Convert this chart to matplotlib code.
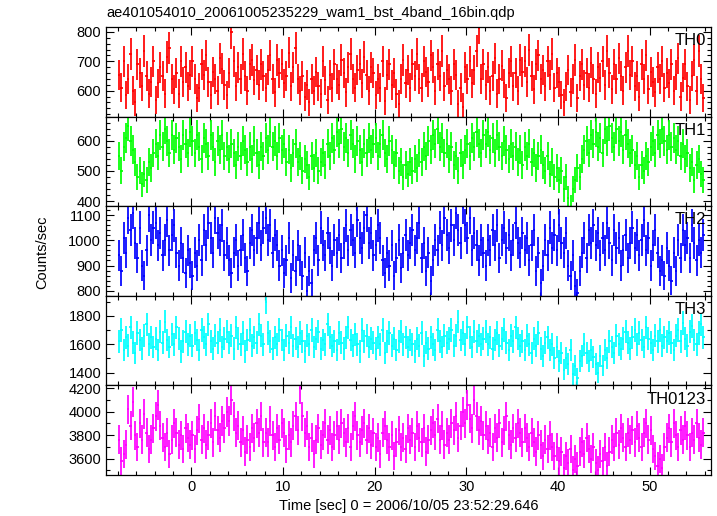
import numpy as np
import matplotlib
matplotlib.use("Agg")
import matplotlib.pyplot as plt
from matplotlib.ticker import MultipleLocator

plt.rcParams['font.family'] = ['Liberation Sans', 'DejaVu Sans']

bin_width = 0.25
t_start = -8.0

th0 = [655,610,700,585,640,725,600,560,690,660,615,735,650,590,630,700,
       570,625,680,650,590,715,745,640,605,660,590,700,630,680,615,655,
       700,640,575,610,690,655,720,630,585,665,640,600,710,675,620,585,
       660,800,700,615,680,640,725,650,600,690,705,635,670,620,690,650,
       610,670,720,640,595,705,660,690,625,650,730,615,680,745,640,600,
       650,580,620,560,640,600,665,615,590,700,635,570,655,610,690,640,
       620,705,660,595,680,725,640,610,670,690,625,715,655,600,680,660,
       585,640,610,700,565,655,690,620,660,590,555,640,705,625,670,610,
       690,650,725,640,610,700,665,630,720,680,600,690,650,735,615,670,
       640,600,690,655,555,610,545,680,640,700,625,670,735,815,640,690,
       620,680,600,650,710,590,640,685,625,575,660,700,615,660,600,705,
       665,700,630,740,650,605,690,720,640,670,615,700,655,725,610,660,
       630,585,560,615,670,595,640,705,575,650,690,620,660,610,695,640,
       590,680,645,700,620,735,660,605,690,640,710,650,600,680,735,655,
       700,615,650,580,690,640,720,605,665,630,595,680,640,700,610,660,
       625,690,600,655,710,580,645,690,615,570,650,705,600,735,640,575]

th1 = [550,500,580,610,650,600,570,530,480,500,455,490,470,530,510,560,
       590,550,620,580,640,600,560,620,570,610,580,540,620,590,560,630,
       600,560,620,580,540,610,590,550,620,580,530,600,570,620,550,580,
       540,590,560,520,580,550,600,570,530,580,540,600,560,520,580,550,
       610,570,630,580,600,550,610,570,590,530,570,510,560,590,530,550,
       500,540,520,480,550,510,560,500,530,560,520,590,550,610,570,630,
       590,640,580,610,560,620,590,540,600,570,530,590,560,610,570,590,
       610,550,590,620,560,540,600,570,520,560,500,530,480,520,490,530,
       500,540,510,560,530,580,550,600,570,620,590,640,580,610,560,590,
       540,580,520,550,500,560,520,570,590,550,610,580,630,590,560,620,
       590,630,570,610,560,620,580,550,600,570,540,590,550,580,530,570,
       520,580,550,590,530,560,510,550,570,520,500,550,490,530,480,510,
       470,500,440,480,410,380,440,470,510,480,540,570,600,560,620,590,
       630,580,610,560,640,600,650,610,580,640,600,630,570,620,590,560,
       570,520,550,480,520,500,550,530,580,600,560,620,590,640,600,570,
       620,580,610,570,600,550,590,540,560,510,530,470,520,540,490,470]

th2 = [940,880,1010,950,1090,1040,1110,990,930,1050,900,860,960,1100,1000,1050,
       1070,980,1030,940,1000,1080,960,1020,1060,950,900,990,930,870,960,910,
       860,950,900,1000,920,1040,980,1070,1010,950,1090,1030,1000,1060,940,990,
       920,870,950,1000,900,960,1020,930,880,990,1040,960,1010,1070,980,1050,
       1090,1000,1060,950,1020,980,900,960,870,920,1010,850,940,880,980,920,
       860,950,800,880,830,960,1010,920,1050,980,940,1030,970,900,1000,950,
       1020,930,990,1060,960,1040,1000,950,1080,1010,970,1050,1100,990,1030,940,
       980,1060,1010,920,870,950,900,980,860,930,1000,890,950,1020,940,990,
       1040,960,1010,1070,930,990,880,950,840,920,1000,960,1050,980,1090,1020,
       970,1060,1000,1110,1040,990,1130,1060,1010,1090,960,1030,980,920,1000,950,
       900,1000,960,1040,980,1060,930,1000,1050,970,1020,940,1000,1070,990,950,
       1030,960,1010,920,980,1040,880,950,830,900,1000,940,1050,970,1020,960,
       1060,990,950,1030,900,860,940,820,790,880,950,1010,930,1040,990,1060,
       980,1030,940,1010,960,1070,990,920,1040,970,1010,900,960,1020,930,990,
       1050,970,1020,940,1000,1080,960,1010,900,980,1040,950,880,920,860,970,
       900,840,950,880,1000,930,1040,980,1010,930,1060,990,920,1000,950,1020]

th3 = [1620,1700,1560,1650,1590,1720,1610,1540,1680,1630,1570,1660,1740,1600,1650,1580,
       1640,1560,1690,1610,1760,1630,1580,1670,1600,1720,1640,1550,1620,1690,1600,1660,
       1590,1680,1630,1560,1700,1650,1600,1740,1620,1570,1660,1610,1700,1580,1640,1690,
       1610,1660,1570,1720,1640,1600,1680,1550,1630,1700,1590,1650,1610,1740,1660,1600,
       1900,1680,1620,1570,1650,1600,1700,1630,1560,1660,1610,1720,1590,1640,1580,1680,
       1620,1550,1660,1600,1700,1580,1640,1690,1570,1630,1600,1740,1650,1590,1620,1560,
       1680,1610,1570,1650,1720,1630,1590,1670,1600,1550,1700,1620,1660,1580,1640,1610,
       1570,1650,1600,1700,1540,1620,1680,1590,1640,1560,1620,1690,1600,1650,1580,1630,
       1600,1550,1640,1590,1680,1520,1610,1570,1650,1600,1560,1700,1620,1580,1660,1610,
       1640,1700,1590,1660,1760,1630,1680,1600,1720,1650,1580,1690,1620,1660,1600,1640,
       1690,1600,1650,1570,1630,1680,1590,1640,1700,1610,1560,1660,1620,1720,1640,1590,
       1620,1560,1660,1600,1540,1640,1590,1680,1570,1520,1610,1650,1560,1600,1500,1580,
       1480,1540,1420,1500,1460,1560,1390,1450,1360,1480,1520,1600,1540,1480,1560,1510,
       1460,1400,1520,1450,1560,1500,1620,1580,1540,1660,1600,1570,1640,1690,1610,1570,
       1650,1700,1600,1680,1630,1580,1720,1640,1610,1560,1660,1620,1700,1590,1650,1620,
       1680,1610,1560,1660,1700,1620,1750,1640,1590,1690,1730,1630,1600,1680,1740,1650]

th0123 = [3760,3580,3640,3720,4020,3880,4080,3800,3700,3900,3760,3980,3820,3680,3760,3860,
          3960,4060,3880,3780,3700,3820,3640,3760,3900,3820,3720,3800,3680,3860,3780,3720,
          3800,3680,3840,3940,3760,3860,3720,3800,3900,3740,3960,3840,3780,3920,3860,4000,
          3920,4100,3960,3820,3880,3740,3840,3660,3760,3700,3860,3780,3900,3820,3960,3740,
          3820,3740,3920,3800,3700,3860,3760,3900,3820,3680,3800,3740,3880,3960,3840,4200,
          3960,3820,3880,3700,3780,3640,3760,3860,3720,3800,3900,3760,3840,3700,3800,3880,
          3760,3900,3820,3740,3860,3700,3880,3960,3800,3740,3840,3900,3760,3860,3720,3820,
          3700,3780,3640,3820,3880,3760,3700,3800,3620,3740,3840,3700,3780,3680,3860,3760,
          3820,3700,3880,3780,3740,3860,3660,3760,3840,3900,3800,3940,3760,3880,3720,3820,
          3760,3900,3840,3960,3780,3880,4000,3900,4060,3940,3860,4100,3960,3840,3920,3800,
          3880,3760,3820,3700,3860,3780,3900,3740,3840,3960,3800,3720,3860,3780,3900,3820,
          3740,3860,3780,3700,3820,3740,3660,3800,3720,3620,3760,3680,3800,3700,3620,3700,
          3580,3660,3520,3620,3560,3680,3500,3600,3540,3660,3740,3640,3780,3680,3600,3700,
          3560,3500,3640,3580,3700,3540,3660,3760,3700,3820,3720,3860,3780,3700,3820,3760,
          3840,3740,3880,3780,3700,3820,3900,3760,3840,3680,3620,3540,3600,3520,3700,3780,
          3860,3740,3900,3800,3700,3840,3760,3880,3800,3700,3820,3760,3900,3780,3720,3820]

band_names = ["TH0", "TH1", "TH2", "TH3", "TH0123"]
band_colors = ["#ff0000", "#00ff00", "#0000ff", "#00ffff", "#ff00ff"]
band_ylims = [(512, 817), (383, 680), (780, 1135), (1310, 1942), (3460, 4225)]
band_major = [100, 100, 100, 200, 200]
band_minor = [20, 20, 20, 100, 100]
series = [th0, th1, th2, th3, th0123]

title = "ae401054010_20061005235229_wam1_bst_4band_16bin.qdp"
xlabel = "Time [sec] 0 = 2006/10/05 23:52:29.646"
ylabel = "Counts/sec"

fig, axes = plt.subplots(5, 1, figsize=(7.17, 5.16), dpi=100, sharex=True)
fig.subplots_adjust(left=106/717, right=711/717, top=1-27/516, bottom=1-475/516, hspace=0)

for ax, name, col, yl, mj, mn, vals in zip(axes, band_names, band_colors, band_ylims,
                                          band_major, band_minor, series):
    v = np.array(vals, dtype=float)
    t = t_start + bin_width * (np.arange(len(v)) + 0.5)
    err = np.sqrt(v * bin_width) / bin_width
    ax.errorbar(t, v, xerr=bin_width / 2, yerr=err, fmt='none', ecolor=col,
                elinewidth=1.25, capsize=0)
    ax.set_ylim(*yl)
    ax.set_xlim(-9.3, 56.7)
    ax.yaxis.set_major_locator(MultipleLocator(mj))
    ax.yaxis.set_minor_locator(MultipleLocator(mn))
    ax.xaxis.set_major_locator(MultipleLocator(10))
    ax.xaxis.set_minor_locator(MultipleLocator(2))
    ax.tick_params(which='both', direction='in', top=True, right=True,
                   labelsize=10.5, width=0.8)
    ax.tick_params(which='major', length=6)
    ax.tick_params(which='minor', length=3)
    for s in ax.spines.values():
        s.set_linewidth(0.9)
    ax.text(0.992, 0.93, name, transform=ax.transAxes, ha='right', va='top',
            fontsize=12)

axes[-1].set_xlabel(xlabel, fontsize=10.5, labelpad=4)
fig.text(106/717, 1 - 13/516, title, ha='left', va='center', fontsize=10.5)
fig.text(42/717, 1 - 252/516, ylabel, rotation=90, ha='center', va='center', fontsize=10.5)

fig.savefig("out.png", dpi=100)
